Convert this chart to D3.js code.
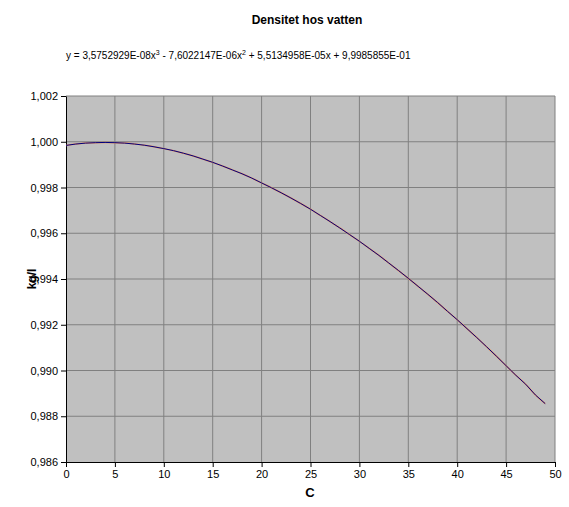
<!DOCTYPE html>
<html lang="en">
<head>
<meta charset="UTF-8">
<title>Densitet hos vatten</title>
<script src="https://d3js.org/d3.v7.min.js"></script>
<style>
  body { margin: 0; background: #fff; font-family: Arial, "Liberation Sans", sans-serif; }
</style>
</head>
<body>
<div id="chart"></div>
<script>
const temps = d3.range(0, 50);
const density = [0.99984,0.99990,0.99994,0.99996,0.99997,0.99996,0.99994,0.99990,0.99985,0.99978,
  0.99970,0.99961,0.99950,0.99938,0.99924,0.99910,0.99894,0.99877,0.99860,0.99841,
  0.99820,0.99799,0.99777,0.99754,0.99730,0.99705,0.99678,0.99651,0.99623,0.99594,
  0.99565,0.99534,0.99503,0.99470,0.99437,0.99403,0.99368,0.99333,0.99297,0.99259,
  0.99222,0.99183,0.99144,0.99104,0.99063,0.99021,0.98979,0.98940,0.98893,0.98855];
const xTicks = d3.range(0, 51, 5);
const yTicks = [0.986, 0.988, 0.990, 0.992, 0.994, 0.996, 0.998, 1.000, 1.002];

const width = 569, height = 507;
const plotL = 66, plotR = 555, plotT = 96, plotB = 462;

const svg = d3.select("#chart").append("svg").attr("width", width).attr("height", height);

const x = d3.scaleLinear().domain([0, 50]).range([plotL, plotR]);
const y = d3.scaleLinear().domain([0.986, 1.002]).range([plotB, plotT]);

svg.append("rect").attr("x", plotL).attr("y", plotT)
  .attr("width", plotR - plotL).attr("height", plotB - plotT).attr("fill", "#c0c0c0");

// grid
svg.append("g").selectAll("line").data(xTicks.slice(1)).enter().append("line")
  .attr("x1", d => x(d)).attr("x2", d => x(d)).attr("y1", plotT).attr("y2", plotB)
  .attr("stroke", "#808080");
svg.append("g").selectAll("line").data(yTicks.slice(1)).enter().append("line")
  .attr("x1", plotL).attr("x2", plotR).attr("y1", d => y(d)).attr("y2", d => y(d))
  .attr("stroke", "#808080");

const fmtY = d => d3.format(".3f")(d).replace(".", ",");

const xAxis = svg.append("g").attr("transform", `translate(0,${plotB})`)
  .call(d3.axisBottom(x).tickValues(xTicks).tickSize(5).tickSizeOuter(0));
const yAxis = svg.append("g").attr("transform", `translate(${plotL},0)`)
  .call(d3.axisLeft(y).tickValues(yTicks).tickFormat(fmtY).tickSize(5).tickSizeOuter(0));
[xAxis, yAxis].forEach(a => {
  a.selectAll("text").attr("font-family", "Arial, 'Liberation Sans', sans-serif")
    .attr("font-size", 11).attr("fill", "#000");
  a.selectAll("line, path").attr("stroke", "#000");
});

// trendline (orange) under the data series (navy)
svg.append("path").datum(density)
  .attr("d", d3.line().x((d, i) => x(temps[i])).y(d => y(d)).curve(d3.curveMonotoneX))
  .attr("fill", "none").attr("stroke", "#e8905a").attr("stroke-width", 1.5);
svg.append("path").datum(density)
  .attr("d", d3.line().x((d, i) => x(temps[i])).y(d => y(d)))
  .attr("fill", "none").attr("stroke", "#000080").attr("stroke-width", 1);

svg.append("text").attr("x", 307).attr("y", 24).attr("text-anchor", "middle")
  .attr("font-size", 12).attr("font-weight", "bold").text("Densitet hos vatten");
svg.append("text").attr("x", 66).attr("y", 59)
  .attr("font-size", 10).html("y = 3,5752929E-08x<tspan dy='-4' font-size='7'>3</tspan><tspan dy='4'> - 7,6022147E-06x</tspan><tspan dy='-4' font-size='7'>2</tspan><tspan dy='4'> + 5,5134958E-05x + 9,9985855E-01</tspan>");
svg.append("text").attr("transform", "translate(36,279) rotate(-90)").attr("text-anchor", "middle")
  .attr("font-size", 12).attr("font-weight", "bold").text("kg/l");
svg.append("text").attr("x", 310).attr("y", 497).attr("text-anchor", "middle")
  .attr("font-size", 13).attr("font-weight", "bold").text("C");
</script>
</body>
</html>
